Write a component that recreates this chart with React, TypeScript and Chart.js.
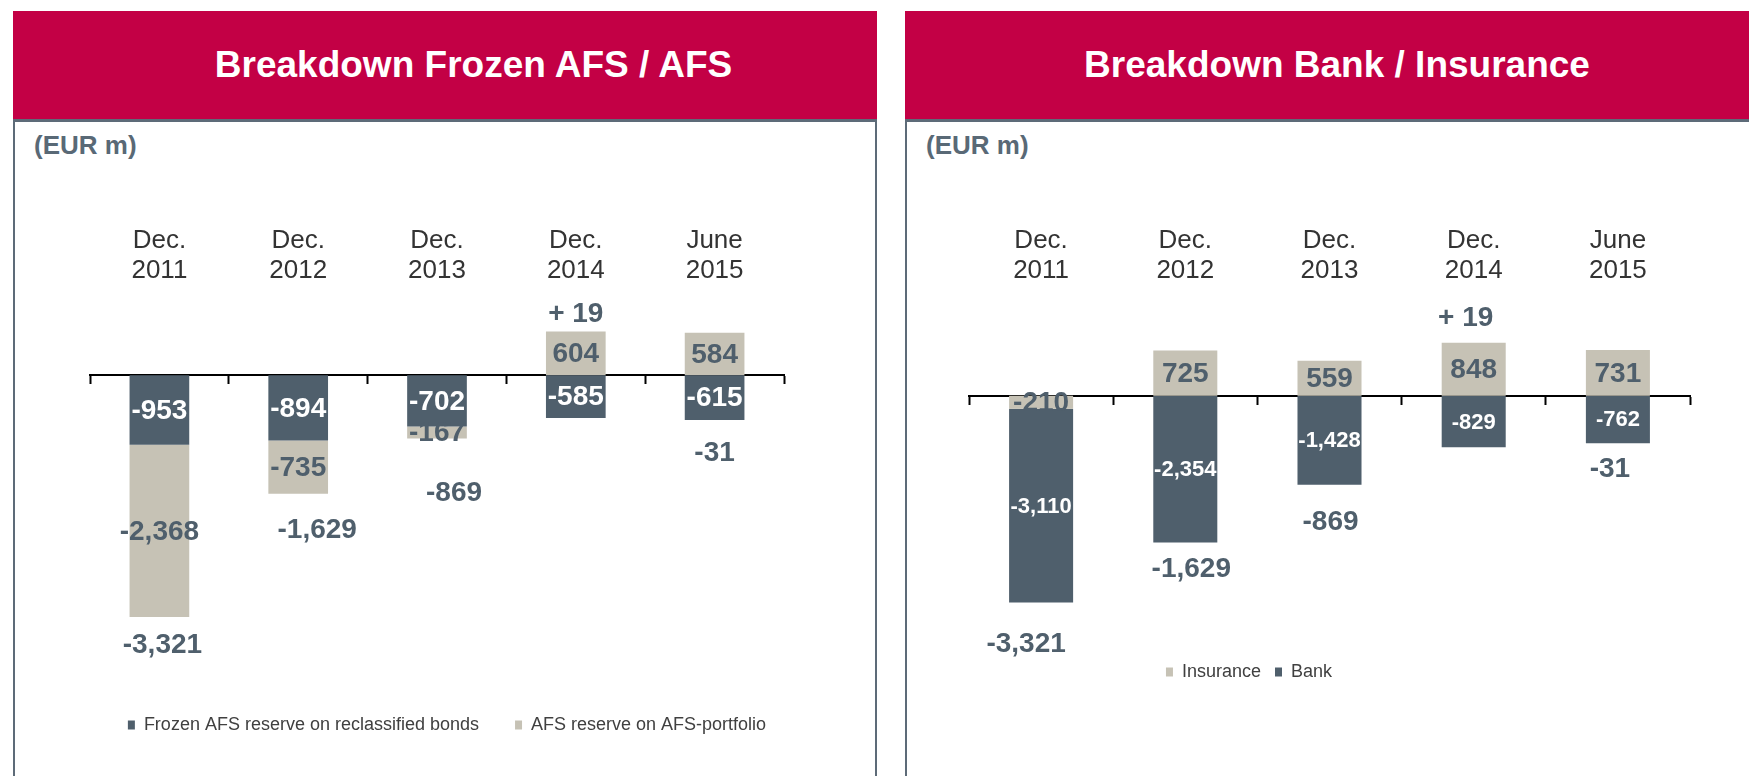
import React, { useEffect, useRef } from 'react';
import { Chart, registerables } from 'chart.js';

Chart.register(...registerables);

// ---------- data ----------
const CATEGORIES = [
  ['Dec.', '2011'],
  ['Dec.', '2012'],
  ['Dec.', '2013'],
  ['Dec.', '2014'],
  ['June', '2015'],
];

const FROZEN_AFS = [-953, -894, -702, -585, -615];
const AFS_PORTFOLIO = [-2368, -735, -167, 604, 584];
const LEFT_TOTALS = [-3321, -1629, -869, 19, -31];

const INSURANCE = [-210, 725, 559, 848, 731];
const BANK = [-3110, -2354, -1428, -829, -762];
const RIGHT_TOTALS = [-3321, -1629, -869, 19, -31];

const LEFT_Y_MIN = -4188;
const LEFT_Y_MAX = 1187;
const RIGHT_Y_MIN = -4064;
const RIGHT_Y_MAX = 1711;

// total-label placement (px offsets from the stack edge)
const LEFT_TOTAL_DX = [3, 19, 17, 0, 0];
const LEFT_TOTAL_DY = [28, 36, 55, 17, 33];
const RIGHT_TOTAL_DX = [-15, 6, 1, -8, -8];
const RIGHT_TOTAL_DY = [42, 27, 38, 25, 26];

// ---------- styles ----------
const FONT = "'Liberation Sans', Arial, sans-serif";
const DARK = '#4f5f6c';
const BEIGE = '#c6c2b5';
const RED = '#c30045';
const BORDER = '#5d6b78';

Chart.defaults.font.family = FONT;

const fmt = (v: number) => v.toLocaleString('en-US');
const fmtTotal = (v: number) => (v > 0 ? '+ ' + fmt(v) : fmt(v));

const barLabelsPlugin = {
  id: 'barLabels',
  afterDatasetsDraw(chart: any, _a: any, opts: any) {
    const ctx = chart.ctx;
    ctx.save();
    ctx.textAlign = 'center';
    ctx.textBaseline = 'middle';
    chart.data.datasets.forEach((ds: any, di: number) => {
      const st = opts.styles[di];
      const meta = chart.getDatasetMeta(di);
      ctx.font = `bold ${st.size}px ${FONT}`;
      ctx.fillStyle = st.color;
      meta.data.forEach((el: any, i: number) => {
        const { x, y, base } = el.getProps(['x', 'y', 'base'], true);
        ctx.fillText(fmt(ds.data[i]), x, (y + base) / 2 + 1);
      });
    });
    ctx.restore();
  },
};

const totalsPlugin = {
  id: 'totals',
  afterDatasetsDraw(chart: any, _a: any, opts: any) {
    const ctx = chart.ctx;
    const xs = chart.scales.x;
    const ys = chart.scales.y;
    ctx.save();
    ctx.textAlign = 'center';
    ctx.textBaseline = 'middle';
    ctx.font = `bold 28px ${FONT}`;
    ctx.fillStyle = DARK;
    opts.totals.forEach((t: number, i: number) => {
      let pos = 0;
      let neg = 0;
      chart.data.datasets.forEach((ds: any) => {
        const v = ds.data[i];
        if (v >= 0) pos += v;
        else neg += v;
      });
      const cx = xs.getPixelForValue(i) + opts.dx[i];
      const cy = t >= 0 ? ys.getPixelForValue(pos) - opts.dy[i] : ys.getPixelForValue(neg) + opts.dy[i];
      ctx.fillText(fmtTotal(t), cx, cy);
    });
    ctx.restore();
  },
};

function makeConfig(p: any): any {
  return {
    type: 'bar',
    data: { labels: CATEGORIES, datasets: p.datasets },
    options: {
      responsive: false,
      animation: false,
      layout: { padding: p.padding },
      datasets: { bar: { categoryPercentage: 1, barPercentage: p.barPct } },
      scales: {
        x: {
          position: 'top',
          stacked: true,
          grid: { display: false, drawTicks: false },
          border: { display: false },
          ticks: {
            color: '#333333',
            font: { size: 26, lineHeight: '30px' },
            padding: 3,
            maxRotation: 0,
            autoSkip: false,
          },
        },
        x2: {
          type: 'category',
          position: { y: 0 },
          offset: true,
          z: 1,
          grid: {
            display: true,
            drawOnChartArea: false,
            drawTicks: true,
            tickLength: 8,
            tickWidth: 2,
            tickColor: '#000000',
            offset: true,
          },
          border: { display: true, color: '#000000', width: 2 },
          ticks: { display: false },
        },
        y: {
          position: p.yPos,
          stacked: true,
          min: p.yMin,
          max: p.yMax,
          grid: { display: false },
          border: { display: false },
          ticks: { display: false },
          afterFit: (s: any) => {
            s.width = p.yWidth;
          },
        },
      },
      plugins: {
        legend: {
          position: 'bottom',
          labels: {
            boxWidth: 7,
            boxHeight: 9,
            padding: p.legendPad,
            color: '#404040',
            font: { size: 18 },
          },
        },
        tooltip: { enabled: false },
        barLabels: { styles: p.labelStyles },
        totals: { totals: p.totals, dx: p.dx, dy: p.dy },
      },
    },
    plugins: [barLabelsPlugin, totalsPlugin],
  };
}

function ChartCanvas({ config, left, top, width, height }: any) {
  const ref = useRef<HTMLCanvasElement>(null);
  useEffect(() => {
    const chart = new Chart(ref.current as HTMLCanvasElement, config());
    return () => chart.destroy();
  }, []);
  return (
    <canvas
      ref={ref}
      width={width}
      height={height}
      style={{ position: 'absolute', left, top, width, height }}
    />
  );
}

const leftConfig = () =>
  makeConfig({
    datasets: [
      { label: 'Frozen AFS reserve on reclassified bonds', data: FROZEN_AFS, backgroundColor: DARK, borderWidth: 0 },
      { label: 'AFS reserve on AFS-portfolio', data: AFS_PORTFOLIO, backgroundColor: BEIGE, borderWidth: 0 },
    ],
    padding: { left: 77, right: 73, top: 63, bottom: 32 },
    barPct: 0.43,
    yPos: 'right',
    yWidth: 20,
    yMin: LEFT_Y_MIN,
    yMax: LEFT_Y_MAX,
    legendPad: 36,
    labelStyles: [
      { size: 28, color: '#ffffff' },
      { size: 28, color: DARK },
    ],
    totals: LEFT_TOTALS,
    dx: LEFT_TOTAL_DX,
    dy: LEFT_TOTAL_DY,
  });

const rightConfig = () =>
  makeConfig({
    datasets: [
      { label: 'Insurance', data: INSURANCE, backgroundColor: BEIGE, borderWidth: 0 },
      { label: 'Bank', data: BANK, backgroundColor: DARK, borderWidth: 0 },
    ],
    padding: { left: 0, right: 59, top: 63, bottom: 85 },
    barPct: 0.444,
    yPos: 'left',
    yWidth: 161,
    yMin: RIGHT_Y_MIN,
    yMax: RIGHT_Y_MAX,
    legendPad: 14,
    labelStyles: [
      { size: 28, color: DARK },
      { size: 22, color: '#ffffff' },
    ],
    totals: RIGHT_TOTALS,
    dx: RIGHT_TOTAL_DX,
    dy: RIGHT_TOTAL_DY,
  });

function Panel({ left, title, titleShift }: any) {
  return (
    <>
      <div
        style={{
          position: 'absolute',
          left,
          top: 11,
          width: 864,
          height: 108,
          background: RED,
          color: '#ffffff',
          fontFamily: FONT,
          fontWeight: 'bold',
          fontSize: 37,
          display: 'flex',
          alignItems: 'center',
          justifyContent: 'center',
          boxSizing: 'border-box',
          paddingLeft: titleShift,
        }}
      >
        {title}
      </div>
      <div
        style={{
          position: 'absolute',
          left,
          top: 119,
          width: 864,
          height: 657,
          boxSizing: 'border-box',
          borderTop: `3px solid ${BORDER}`,
          borderLeft: `2px solid ${BORDER}`,
          borderRight: `2px solid ${BORDER}`,
          background: '#ffffff',
        }}
      />
      <div
        style={{
          position: 'absolute',
          left: left + 21,
          top: 128,
          fontFamily: FONT,
          fontWeight: 'bold',
          fontSize: 26,
          lineHeight: '34px',
          color: '#596976',
        }}
      >
        (EUR m)
      </div>
    </>
  );
}

export default function App() {
  return (
    <div
      style={{
        position: 'fixed',
        left: 0,
        top: 0,
        width: 1749,
        height: 776,
        overflow: 'hidden',
        background: '#ffffff',
      }}
    >
      <Panel left={13} title="Breakdown Frozen AFS / AFS" titleShift={57} />
      <Panel left={905} title="Breakdown Bank / Insurance" titleShift={0} />
      <ChartCanvas config={leftConfig} left={13} top={160} width={864} height={616} />
      <ChartCanvas config={rightConfig} left={808} top={160} width={941} height={616} />
    </div>
  );
}
